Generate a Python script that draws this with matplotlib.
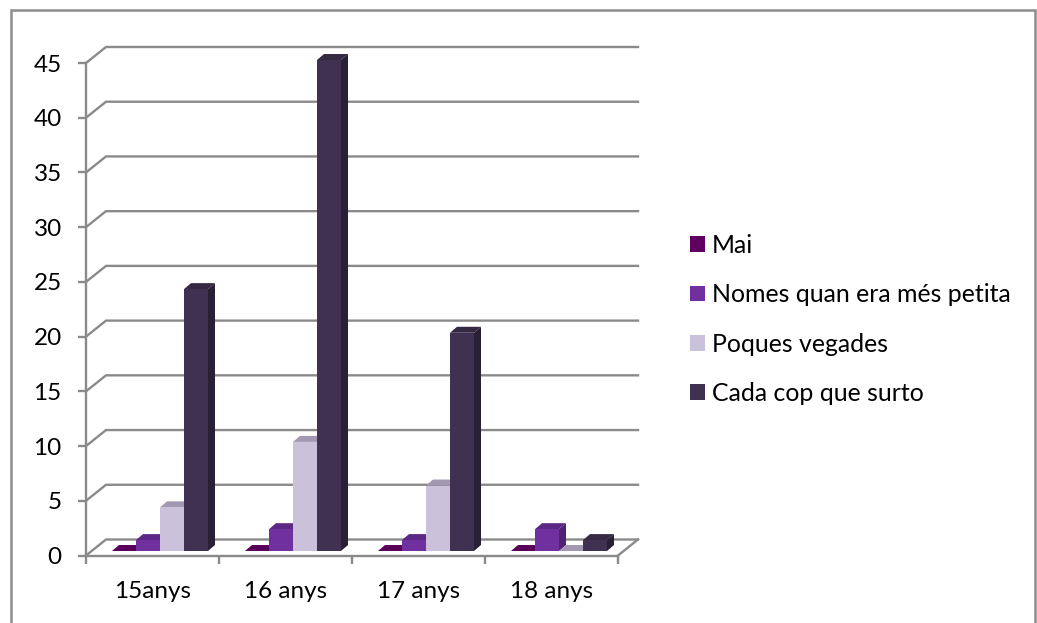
import matplotlib
matplotlib.use('Agg')
import matplotlib.pyplot as plt
from matplotlib.patches import Polygon, Rectangle

plt.rcParams['font.family'] = ['Lato', 'DejaVu Sans']

categories = ['15anys', '16 anys', '17 anys', '18 anys']
series_names = ['Mai', 'Nomes quan era més petita', 'Poques vegades', 'Cada cop que surto']
mai = [0, 0, 0, 0]
nomes = [1, 2, 1, 2]
poques = [4, 10, 6, 0]
cada_cop = [24, 45, 20, 1]
y_ticks = [0, 5, 10, 15, 20, 25, 30, 35, 40, 45]

front_colors = ['#5f0060', '#7030a0', '#ccc1da', '#403152']
top_colors = ['#5a005b', '#5c2885', '#a398b2', '#352943']
side_colors = ['#4d004e', '#4f2274', '#8f869c', '#2a2036']
grid_color = '#8a8a8a'
font_size = 17.5

W, H = 1037, 623
fig = plt.figure(figsize=(W / 100, H / 100), dpi=100)


def px_axes(left, right, y0, y45):
    return fig.add_axes([left / W, (H - y0) / H, (right - left) / W, (y0 - y45) / H])


# outer frame, runs off the bottom of the picture
fig.add_artist(Rectangle((11 / W, -0.02), 1023.5 / W, 1.02 - 9.5 / H, transform=fig.transFigure,
                         fill=False, edgecolor='#8c8c8c', linewidth=1.8))

# front axes: ticks and walls
ax = px_axes(86, 618, 555.5, 63)
ax.set_xlim(0, 4)
ax.set_ylim(0, 45)
ax.patch.set_alpha(0)
for name in ['top', 'right']:
    ax.spines[name].set_visible(False)
for name in ['left', 'bottom']:
    ax.spines[name].set_color(grid_color)
    ax.spines[name].set_linewidth(1.7)

ax.set_yticks(y_ticks)
ax.set_xticks(range(5))
ax.set_xticklabels([])
ax.set_xticks([i + 0.5 for i in range(4)], minor=True)
ax.set_xticklabels(categories, minor=True, fontsize=font_size)
ax.tick_params(axis='both', which='major', color=grid_color, width=1.7, length=5.5)
ax.tick_params(axis='y', labelsize=font_size, pad=12)
ax.tick_params(axis='x', which='minor', length=0, pad=18)

# back wall grid, pushed away from the front axes
wall_dx = 20 / 133
wall_dy = 16 / (492.5 / 45)
for v in y_ticks:
    ax.plot([0, wall_dx, 4 + wall_dx], [v, v + wall_dy, v + wall_dy], color=grid_color,
            linewidth=1.7, clip_on=False, solid_joinstyle='miter')
ax.plot([4, 4 + wall_dx], [0, wall_dy], color=grid_color, linewidth=1.7, clip_on=False)

# bars stand on the floor, slightly behind the front edge
bx = px_axes(86, 618, 551, 60)
bx.set_xlim(0, 4)
bx.set_ylim(0, 45)
bx.axis('off')

bar_w = 24 / 133
start = 26 / 133
depth_x = 7 / 133
depth_y = 6 / (491 / 45)

for j, values in enumerate([mai, nomes, poques, cada_cop]):
    for i, v in enumerate(values):
        x0 = i + start + j * bar_w
        x1 = x0 + bar_w
        bx.add_patch(Polygon([(x1, 0), (x1 + depth_x, depth_y), (x1 + depth_x, v + depth_y), (x1, v)],
                             closed=True, facecolor=side_colors[j], edgecolor='none', clip_on=False))
        bx.add_patch(Polygon([(x0, v), (x0 + depth_x, v + depth_y), (x1 + depth_x, v + depth_y), (x1, v)],
                             closed=True, facecolor=top_colors[j], edgecolor='none', clip_on=False))
    xs = [i + start + j * bar_w for i in range(4)]
    bx.bar(xs, values, width=bar_w, align='edge', color=front_colors[j], clip_on=False,
           label=series_names[j])

handles, labels = bx.get_legend_handles_labels()
fig.legend(handles, labels, loc='center left', bbox_to_anchor=(690 / W, (H - 319.5) / H), frameon=False,
           fontsize=17.9, handlelength=0.6, handleheight=0.6, handletextpad=0.27, labelspacing=1.06,
           borderpad=0, borderaxespad=0)

fig.savefig('out.png', dpi=100)
